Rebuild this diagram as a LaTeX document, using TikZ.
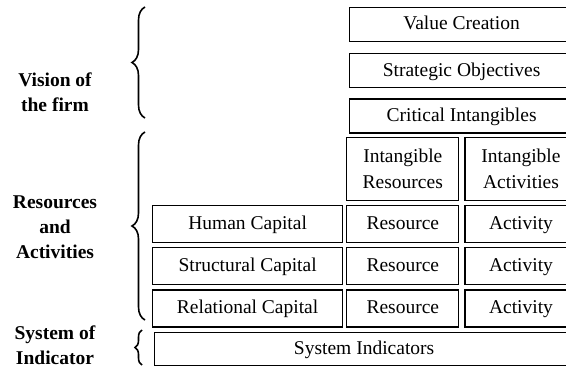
\documentclass[tikz,border=0pt]{standalone}
\usepackage{fontspec}
\setmainfont{Liberation Serif}
\usetikzlibrary{positioning,decorations.pathreplacing}
\tikzset{box/.style={draw,line width=0.6pt,inner sep=1pt,align=center,
                     font=\fontsize{9.75}{13}\selectfont},
         line/.style={box,text height=1.6ex,text depth=0.45ex},
         head/.style={line,minimum width=112pt,minimum height=17pt},
         colhead/.style={box,minimum width=56pt,minimum height=31.5pt},
         capbox/.style={line,minimum width=95pt,minimum height=18.5pt},
         cell/.style={line,minimum width=56pt,minimum height=18.5pt},
         wide/.style={line,minimum width=209.5pt,minimum height=16.5pt},
         label/.style={align=center,font=\bfseries\fontsize{9.75}{12.5}\selectfont},
         brace/.style={line width=0.8pt,decorate,decoration={brace,amplitude=6.5pt}}
}

\begin{document}
\begin{tikzpicture}[x=0.5pt,y=-0.5pt]
\clip (0,0) rectangle (566,368);

% vision of the firm
\node[head,anchor=north west] (value) at (349,7) {Value Creation};
\node[head,below=5.5pt of value] (strategic) {Strategic Objectives};
\node[head,below=5pt of strategic] (critical) {Critical Intangibles};

% capitals with their resources and activities
\node[capbox,anchor=north west] (human) at (152,205) {Human Capital};
\node[cell,right=1.5pt of human] (hres) {Resource};
\node[cell,right=2.5pt of hres] (hact) {Activity};
\node[capbox,below=2pt of human] (structural) {Structural Capital};
\node[cell,right=1.5pt of structural] (sres) {Resource};
\node[cell,right=2.5pt of sres] (sact) {Activity};
\node[capbox,below=2pt of structural] (relational) {Relational Capital};
\node[cell,right=1.5pt of relational] (rres) {Resource};
\node[cell,right=2.5pt of rres] (ract) {Activity};
\node[colhead,above=2pt of hres] (intres) {Intangible\\Resources};
\node[colhead,above=2pt of hact] (intact) {Intangible\\Activities};

% indicators
\node[wide,anchor=north west] (indicators) at (154,332) {System Indicators};

% levels on the left
\node[label] (vision) at (55,92) {Vision of\\the firm};
\node[label] (resact) at (55,227) {Resources\\and\\Activities};
\node[label] (sysind) at (55,345) {System of\\Indicator};
\draw[brace] (145,118) -- (145,7);
\draw[brace] (145,320) -- (145,132);
\draw[brace,decoration={brace,amplitude=3.5pt}] (142,365) -- (142,330);

\end{tikzpicture}
\end{document}
